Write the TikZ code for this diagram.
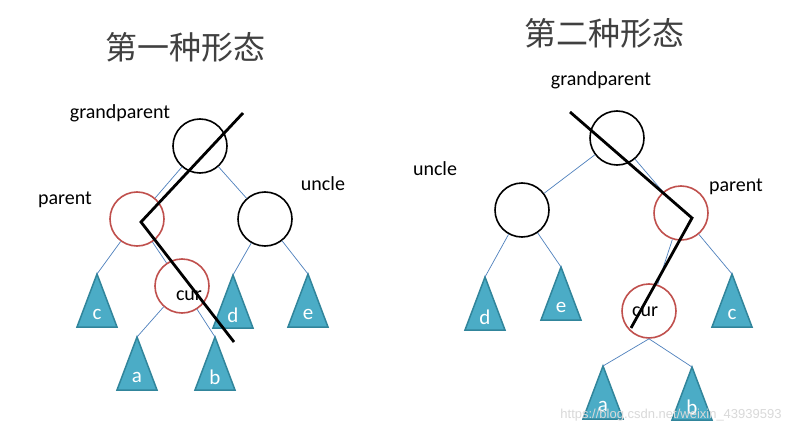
\documentclass[tikz,border=0pt]{standalone}
\usepackage{fontspec}
\setmainfont{Carlito}
\newfontfamily\cjk{Noto Sans CJK SC}
\newfontfamily\markfont{Liberation Sans}
\definecolor{rbred}{RGB}{192, 80, 77}
\definecolor{treefill}{RGB}{75, 172, 198}
\definecolor{treeedge}{RGB}{49, 133, 155}
\definecolor{linkblue}{RGB}{79, 129, 189}
\usetikzlibrary{calc}
\tikzset{
    blacknode/.style={circle, draw=black, line width=1.6pt, minimum size=54pt, inner sep=0pt},
    rednode/.style={circle, draw=rbred, line width=1.6pt, minimum size=54pt, inner sep=0pt},
    link/.style={draw=linkblue, line width=0.7pt},
    zigzag/.style={draw=black, line width=2.8pt},
    subtree/.style={fill=treefill, draw=treeedge, line width=1.5pt, line join=miter},
    treelabel/.style={text=white, font=\fontsize{21}{24}\selectfont, inner sep=0pt},
    rolelabel/.style={font=\fontsize{20}{24}\selectfont, inner sep=0pt},
    titlelabel/.style={font=\cjk\fontsize{32}{36}\selectfont, text=black!75, inner sep=0pt},
}
% triangle subtree: apex name, x, y, label
\newcommand{\subtri}[4]{%
    \coordinate (#1) at (#2,#3);
    \draw[subtree] (#1) -- ++(-20,53) -- ++(40,0) -- cycle;
    \node[treelabel] (#1lbl) at (#2,#3+40) {#4};
}
\begin{document}
\begin{tikzpicture}[x=1pt, y=-1pt]
    \useasboundingbox (0,0) rectangle (789,433);
    \fill[white] (0,0) rectangle (789,433);

    % first case
    \node[titlelabel] (title1) at (185,47) {第一种形态};
    \node[blacknode] (gp1) at (200,146) {};
    \node[rednode] (par1) at (137,219) {};
    \node[blacknode] (unc1) at (265,219) {};
    \node[rednode] (cur1) at (182,286) {};
    \subtri{tc1}{97}{274}{c}
    \subtri{td1}{233}{275}{d}
    \subtri{te1}{308}{274}{e}
    \subtri{ta1}{137}{337}{a}
    \subtri{tb1}{215}{337}{b}
    \draw[link] (gp1) -- (par1);
    \draw[link] (gp1) -- (unc1);
    \draw[link] (par1) -- (tc1);
    \draw[link] (par1) -- (cur1);
    \draw[link] (unc1) -- (td1);
    \draw[link] (unc1) -- (te1);
    \draw[link] (cur1) -- (ta1);
    \draw[link] (cur1) -- (tb1);
    \node[rolelabel] (gplbl1) at (120,113) {grandparent};
    \node[rolelabel] (parlbl1) at (65,200) {parent};
    \node[rolelabel] (unclbl1) at (323,184) {uncle};
    \node[rolelabel] (curlbl1) at (189,296) {cur};
    \coordinate (zs1) at (243,113);
    \coordinate (zm1) at (141,222);
    \coordinate (ze1) at (234,342);
    \draw[zigzag] (zs1) -- (zm1) -- (ze1);

    % second case
    \node[titlelabel] (title2) at (604,33) {第二种形态};
    \node[blacknode] (gp2) at (617,138) {};
    \node[blacknode] (unc2) at (522,210) {};
    \node[rednode] (par2) at (681,213) {};
    \node[rednode] (cur2) at (649,311) {};
    \subtri{td2}{485}{277}{d}
    \subtri{te2}{561}{267}{e}
    \subtri{tc2}{732}{274}{c}
    \subtri{ta2}{603}{366}{a}
    \subtri{tb2}{692}{367}{b}
    \draw[link] (gp2) -- (unc2);
    \draw[link] (gp2) -- (par2);
    \draw[link] (unc2) -- (td2);
    \draw[link] (unc2) -- (te2);
    \draw[link] (par2) -- (cur2);
    \draw[link] (par2) -- (tc2);
    \draw[link] (cur2.south) -- (ta2);
    \draw[link] (cur2.south) -- (tb2);
    \node[rolelabel] (gplbl2) at (601,80) {grandparent};
    \node[rolelabel] (unclbl2) at (435,169) {uncle};
    \node[rolelabel] (parlbl2) at (736,187) {parent};
    \node[rolelabel] (curlbl2) at (645,312) {cur};
    \coordinate (zs2) at (570,112);
    \coordinate (zm2) at (692,218);
    \coordinate (ze2) at (631,328);
    \draw[zigzag] (zs2) -- (zm2) -- (ze2);

    \node[font=\markfont\fontsize{13}{15}\selectfont, text=gray!30, inner sep=0pt] (mark) at (671,415) {https://blog.csdn.net/weixin\_43939593};
\end{tikzpicture}
\end{document}
